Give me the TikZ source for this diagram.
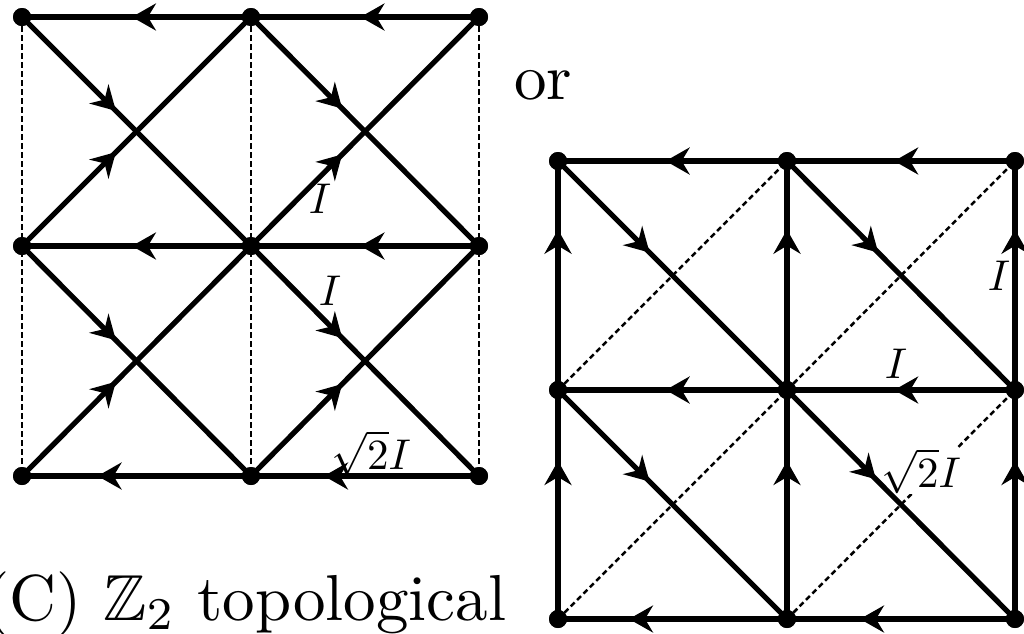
\documentclass[tikz,border=0pt]{standalone}
\usepackage{amssymb}
\usepackage{graphicx}
\usetikzlibrary{arrows.meta,decorations.markings}
\tikzset{
  dot/.style={circle,fill=black,inner sep=0pt,minimum size=18pt},
  bond/.style={line width=5.2pt},
  dsh/.style={line width=2.5pt,dash pattern=on 5.5pt off 3.5pt},
  arr/.style={bond,postaction={decorate},decoration={markings,mark=at position #1 with {\arrow{Stealth[length=24pt,width=27pt,inset=8pt]}}}},
  lbl/.style={inner sep=1pt,fill=white},
  bigtxt/.style={inner sep=0pt,anchor=base west},
}
\newcommand{\lblsz}[1]{\scalebox{4.3}{#1}}
\newcommand{\txtsz}[1]{\scalebox{6.5}{#1}}
\begin{document}
\begin{tikzpicture}[x=1pt,y=-1pt]
\path[use as bounding box] (0,0) rectangle (1024,633);
\clip (0,0) rectangle (1024,633);
% left lattice dots
\foreach \r/\y in {1/17,2/246,3/476}{
  \foreach \c/\x in {1/22,2/251,3/479}{
    \node[dot] (L\r\c) at (\x,\y) {};
  }
}
% right lattice dots
\foreach \r/\y in {1/161,2/390,3/619}{
  \foreach \c/\x in {1/558,2/787,3/1015}{
    \node[dot] (R\r\c) at (\x,\y) {};
  }
}
% left dashed verticals
\draw[dsh] (L11.center) -- (L31.center);
\draw[dsh] (L12.center) -- (L32.center);
\draw[dsh] (L13.center) -- (L33.center);
% right dotted diagonals
\draw[dsh] (R21.center) -- (R12.center);
\draw[dsh] (R22.center) -- (R13.center);
\draw[dsh] (R31.center) -- (R22.center);
\draw[dsh] (R32.center) -- (R23.center);
% labels
\node[lbl] (la) at (320,199) {\lblsz{$I$}};
\node[lbl] (lb) at (330,291) {\lblsz{$I$}};
\node[lbl] (lc) at (371,453) {\lblsz{$\sqrt{2}I$}};
\node[lbl] (ra) at (999,276) {\lblsz{$I$}};
\node[lbl] (rb) at (896,364) {\lblsz{$I$}};
\node[lbl] (rc) at (921,471) {\lblsz{$\sqrt{2}I$}};
% left horizontals
\draw[arr=0.52] (L13.center) -- (L12.center);
\draw[arr=0.52] (L12.center) -- (L11.center);
\draw[arr=0.52] (L23.center) -- (L22.center);
\draw[arr=0.52] (L22.center) -- (L21.center);
\draw[arr=0.68] (L33.center) -- (L32.center);
\draw[arr=0.67] (L32.center) -- (L31.center);
% left diagonals
\draw[arr=0.41] (L11.center) -- (L22.center);
\draw[arr=0.41] (L21.center) -- (L12.center);
\draw[arr=0.40] (L12.center) -- (L23.center);
\draw[arr=0.40] (L22.center) -- (L13.center);
\draw[arr=0.41] (L21.center) -- (L32.center);
\draw[arr=0.41] (L31.center) -- (L22.center);
\draw[arr=0.40] (L22.center) -- (L33.center);
\draw[arr=0.40] (L32.center) -- (L23.center);
% right horizontals
\draw[arr=0.53] (R13.center) -- (R12.center);
\draw[arr=0.53] (R12.center) -- (R11.center);
\draw[arr=0.53] (R23.center) -- (R22.center);
\draw[arr=0.53] (R22.center) -- (R21.center);
\draw[arr=0.68] (R33.center) -- (R32.center);
\draw[arr=0.69] (R32.center) -- (R31.center);
% right verticals
\draw[arr=0.70] (R21.center) -- (R11.center);
\draw[arr=0.69] (R31.center) -- (R21.center);
\draw[arr=0.70] (R22.center) -- (R12.center);
\draw[arr=0.69] (R32.center) -- (R22.center);
\draw[arr=0.70] (R23.center) -- (R13.center);
\draw[arr=0.69] (R33.center) -- (R23.center);
% right diagonals
\draw[arr=0.40] (R11.center) -- (R22.center);
\draw[arr=0.40] (R12.center) -- (R23.center);
\draw[arr=0.40] (R21.center) -- (R32.center);
\draw[arr=0.39] (R22.center) -- (R33.center);
% redraw dots on top
\foreach \n in {L11,L12,L13,L21,L22,L23,L31,L32,L33,R11,R12,R13,R21,R22,R23,R31,R32,R33}{
  \fill (\n.center) circle (9pt);
}
% texts
\node[bigtxt] (or) at (514,99) {\txtsz{or}};
\node[bigtxt] (title) at (-16,620) {\txtsz{(C) $\mathbb{Z}_2$ topological}};
\end{tikzpicture}
\end{document}
